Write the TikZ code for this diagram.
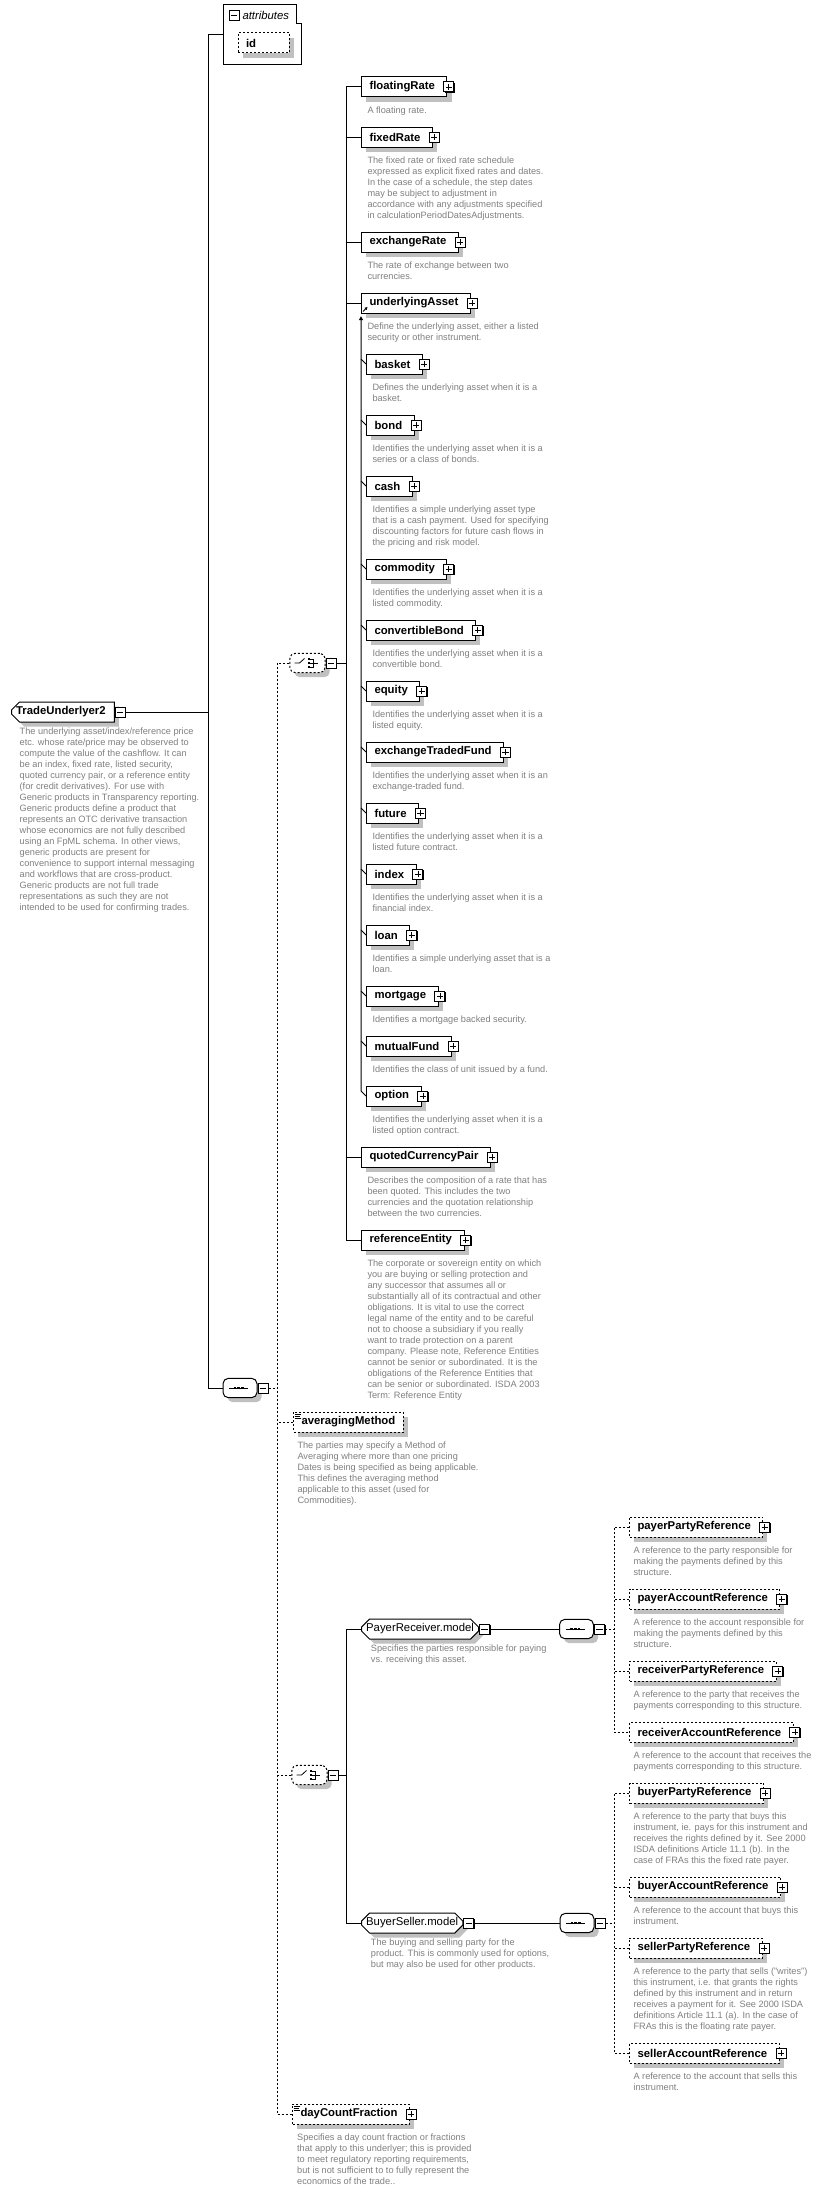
\documentclass[tikz,border=0pt]{standalone}
\usepackage{fontspec}
\setmainfont{Liberation Sans}
\usepackage{tikz}
\usetikzlibrary{positioning}
\usetikzlibrary{shapes.misc}
\usetikzlibrary{shadows}
\usetikzlibrary{arrows.meta}

\definecolor{descgray}{RGB}{128,128,128}
\definecolor{shadowgray}{RGB}{192,192,192}

\newcommand{\namefont}{\bfseries\fontsize{8.5}{10}\selectfont}
\newcommand{\grpfont}{\fontsize{8.5}{10}\selectfont}
\newcommand{\descfont}{\fontsize{6.9}{8.25}\selectfont}

\begin{document}
\begin{tikzpicture}[
        x=0.75pt, y=-0.75pt,
        line width=0.75pt,
        % grey shadow under the boxes
        boxshadow/.style={drop shadow={shadow xshift=3.4pt, shadow yshift=-3.4pt, fill=shadowgray, opacity=1}},
        % element boxes
        elembox/.style={rectangle, draw, fill=white, anchor=west, minimum height=15pt, inner xsep=6pt, inner ysep=0pt, font=\namefont, boxshadow},
        optbox/.style={elembox, dash pattern=on 1.5pt off 1.5pt},
        kids/.style={execute at end node={\hspace*{3pt}}},
        % global type box and model groups
        topbox/.style={chamfered rectangle, chamfered rectangle corners={north west, south west}, chamfered rectangle xsep=2.5pt, draw, fill=white, anchor=west, minimum height=15pt, inner xsep=1pt, inner ysep=0pt, font=\namefont, boxshadow},
        grpbox/.style={chamfered rectangle, chamfered rectangle xsep=2.5pt, draw, fill=white, anchor=west, minimum height=15pt, inner xsep=1pt, inner ysep=0pt, font=\grpfont, boxshadow},
        % compositors
        seqbox/.style={rectangle, rounded corners=4pt, draw, fill=white, minimum width=25.5pt, minimum height=14.5pt, inner sep=0pt, boxshadow},
        choicebox/.style={seqbox, minimum width=26.5pt, dash pattern=on 1.5pt off 1.5pt},
        % toggles
        plusbox/.style={rectangle, draw, fill=white, minimum size=7.5pt, inner sep=0pt,
            drop shadow={shadow xshift=0.75pt, shadow yshift=-0.75pt, fill=black, opacity=1},
            path picture={\draw[line width=0.6pt] ([xshift=1.4pt]path picture bounding box.west) -- ([xshift=-1.4pt]path picture bounding box.east);
                          \draw[line width=0.6pt] ([yshift=-1.4pt]path picture bounding box.north) -- ([yshift=1.4pt]path picture bounding box.south);}},
        minusbox/.style={rectangle, draw, fill=white, minimum size=7.5pt, inner sep=0pt,
            drop shadow={shadow xshift=0.75pt, shadow yshift=-0.75pt, fill=black, opacity=1},
            path picture={\draw[line width=0.6pt] ([xshift=1.4pt]path picture bounding box.west) -- ([xshift=-1.4pt]path picture bounding box.east);}},
        % documentation text
        desc/.style={anchor=north west, align=left, inner sep=0pt, font=\descfont, text=descgray},
        dline/.style={dash pattern=on 1.5pt off 1.5pt},
        % compositor symbols
        seqsym/.pic={
            \draw[line width=0.6pt] (-11,0) -- (8,0);
            \fill (-6.3,-1.3) rectangle ++(2.6,2.6);
            \fill (-2.6,-1.3) rectangle ++(2.6,2.6);
            \fill (1.1,-1.3) rectangle ++(2.6,2.6);
        },
        choicesym/.pic={
            \draw[line width=0.6pt] (-13,0) -- (-8,0) -- (-3,-4.5);
            \fill (0,-5.2) rectangle ++(2.4,2.4);
            \fill (0,-1.2) rectangle ++(2.4,2.4);
            \fill (0,2.8) rectangle ++(2.4,2.4);
            \draw[line width=0.6pt] (2.4,-4) -- (5.5,-4) -- (5.5,4) -- (2.4,4);
            \draw[line width=0.6pt] (2.4,0) -- (10.5,0);
        },
        % simple content icon
        lines/.pic={
            \draw[line width=0.5pt] (0,0) -- (6,0);
            \draw[line width=0.5pt] (0,1.7) -- (5,1.7);
            \draw[line width=0.5pt] (0,3.4) -- (6,3.4);
        }
    ]

    \fill[white] (0,0) rectangle (825,2191);
    \useasboundingbox (0,0) rectangle (825,2191);

    % --- global type with its attributes ---
    \node[rectangle, minimum width=58.5pt, minimum height=44.25pt, inner sep=0pt, anchor=north west] (attributes) at (223,5) {};
    \draw (attributes.north west) -- ++(73,0) -- ++(0,19) -- ++(5,0) |- (attributes.south west) -- cycle;
    \node[minusbox] (attributesMinus) at (234,15.5) {};
    \node[anchor=west, inner sep=0pt, font=\itshape\fontsize{8.5}{10}\selectfont] (attributesLabel) at (242,15.5) {attributes};
    \node[optbox] (id) at (237.5,43) {id\hspace*{19pt}};

    \node[topbox, kids] (tradeUnderlyer) at (11,712) {TradeUnderlyer2};
    \node[minusbox, anchor=west] (tradeUnderlyerMinus) at (tradeUnderlyer.east) {};
    \node[desc, below right=6.75pt and 3pt of tradeUnderlyer.south west] (tradeUnderlyerDoc) {The underlying asset/index/reference price\\etc. whose rate/price may be observed to\\compute the value of the cashflow. It can\\be an index, fixed rate, listed security,\\quoted currency pair, or a reference entity\\(for credit derivatives). For use with\\Generic products in Transparency reporting.\\Generic products define a product that\\represents an OTC derivative transaction\\whose economics are not fully described\\using an FpML schema. In other views,\\generic products are present for\\convenience to support internal messaging\\and workflows that are cross-product.\\Generic products are not full trade\\representations as such they are not\\intended to be used for confirming trades.};

    % --- main sequence ---
    \node[seqbox] (seqMain) at (240,1388) {};
    \pic at (seqMain.center) {seqsym};
    \node[minusbox, anchor=west] (seqMainMinus) at (seqMain.east) {};

    % --- choice of underlyer kinds ---
    \node[choicebox] (choiceTop) at (307.5,663) {};
    \pic at (choiceTop.center) {choicesym};
    \node[minusbox, anchor=west] (choiceTopMinus) at (choiceTop.east) {};

    \node[elembox, kids] (floatingRate) at (361,87) {floatingRate};
    \node[plusbox] (floatingRatePlus) at ([xshift=1pt]floatingRate.east) {};
    \node[desc, below right=6.75pt and 4.5pt of floatingRate.south west] (floatingRateDoc) {A floating rate.};

    \node[elembox, kids] (fixedRate) at (361,137) {fixedRate};
    \node[plusbox] (fixedRatePlus) at ([xshift=1pt]fixedRate.east) {};
    \node[desc, below right=6.75pt and 4.5pt of fixedRate.south west] (fixedRateDoc) {The fixed rate or fixed rate schedule\\expressed as explicit fixed rates and dates.\\In the case of a schedule, the step dates\\may be subject to adjustment in\\accordance with any adjustments specified\\in calculationPeriodDatesAdjustments.};

    \node[elembox, kids] (exchangeRate) at (361,242) {exchangeRate};
    \node[plusbox] (exchangeRatePlus) at ([xshift=1pt]exchangeRate.east) {};
    \node[desc, below right=6.75pt and 4.5pt of exchangeRate.south west] (exchangeRateDoc) {The rate of exchange between two\\currencies.};

    \node[elembox, kids] (underlyingAsset) at (361,303) {underlyingAsset};
    \node[plusbox] (underlyingAssetPlus) at ([xshift=1pt]underlyingAsset.east) {};
    \draw[-{Triangle[length=2pt,width=2pt]}, line width=0.6pt] ([shift={(2,-2)}]underlyingAsset.south west) -- ++(4.5,-4.5);
    \node[desc, below right=6.75pt and 4.5pt of underlyingAsset.south west] (underlyingAssetDoc) {Define the underlying asset, either a listed\\security or other instrument.};

    % substitution group members
    \node[elembox, kids] (basket) at (366,364) {basket};
    \node[plusbox] (basketPlus) at ([xshift=1pt]basket.east) {};
    \node[desc, below right=6.75pt and 4.5pt of basket.south west] (basketDoc) {Defines the underlying asset when it is a\\basket.};

    \node[elembox, kids] (bond) at (366,425) {bond};
    \node[plusbox] (bondPlus) at ([xshift=1pt]bond.east) {};
    \node[desc, below right=6.75pt and 4.5pt of bond.south west] (bondDoc) {Identifies the underlying asset when it is a\\series or a class of bonds.};

    \node[elembox, kids] (cash) at (366,486) {cash};
    \node[plusbox] (cashPlus) at ([xshift=1pt]cash.east) {};
    \node[desc, below right=6.75pt and 4.5pt of cash.south west] (cashDoc) {Identifies a simple underlying asset type\\that is a cash payment. Used for specifying\\discounting factors for future cash flows in\\the pricing and risk model.};

    \node[elembox, kids] (commodity) at (366,569) {commodity};
    \node[plusbox] (commodityPlus) at ([xshift=1pt]commodity.east) {};
    \node[desc, below right=6.75pt and 4.5pt of commodity.south west] (commodityDoc) {Identifies the underlying asset when it is a\\listed commodity.};

    \node[elembox, kids] (convertibleBond) at (366,630) {convertibleBond};
    \node[plusbox] (convertibleBondPlus) at ([xshift=1pt]convertibleBond.east) {};
    \node[desc, below right=6.75pt and 4.5pt of convertibleBond.south west] (convertibleBondDoc) {Identifies the underlying asset when it is a\\convertible bond.};

    \node[elembox, kids] (equity) at (366,691) {equity};
    \node[plusbox] (equityPlus) at ([xshift=1pt]equity.east) {};
    \node[desc, below right=6.75pt and 4.5pt of equity.south west] (equityDoc) {Identifies the underlying asset when it is a\\listed equity.};

    \node[elembox, kids] (exchangeTradedFund) at (366,752) {exchangeTradedFund};
    \node[plusbox] (exchangeTradedFundPlus) at ([xshift=1pt]exchangeTradedFund.east) {};
    \node[desc, below right=6.75pt and 4.5pt of exchangeTradedFund.south west] (exchangeTradedFundDoc) {Identifies the underlying asset when it is an\\exchange-traded fund.};

    \node[elembox, kids] (future) at (366,813) {future};
    \node[plusbox] (futurePlus) at ([xshift=1pt]future.east) {};
    \node[desc, below right=6.75pt and 4.5pt of future.south west] (futureDoc) {Identifies the underlying asset when it is a\\listed future contract.};

    \node[elembox, kids] (index) at (366,874) {index};
    \node[plusbox] (indexPlus) at ([xshift=1pt]index.east) {};
    \node[desc, below right=6.75pt and 4.5pt of index.south west] (indexDoc) {Identifies the underlying asset when it is a\\financial index.};

    \node[elembox, kids] (loan) at (366,935) {loan};
    \node[plusbox] (loanPlus) at ([xshift=1pt]loan.east) {};
    \node[desc, below right=6.75pt and 4.5pt of loan.south west] (loanDoc) {Identifies a simple underlying asset that is a\\loan.};

    \node[elembox, kids] (mortgage) at (366,996) {mortgage};
    \node[plusbox] (mortgagePlus) at ([xshift=1pt]mortgage.east) {};
    \node[desc, below right=6.75pt and 4.5pt of mortgage.south west] (mortgageDoc) {Identifies a mortgage backed security.};

    \node[elembox, kids] (mutualFund) at (366,1046) {mutualFund};
    \node[plusbox] (mutualFundPlus) at ([xshift=1pt]mutualFund.east) {};
    \node[desc, below right=6.75pt and 4.5pt of mutualFund.south west] (mutualFundDoc) {Identifies the class of unit issued by a fund.};

    \node[elembox, kids] (option) at (366,1096) {option};
    \node[plusbox] (optionPlus) at ([xshift=1pt]option.east) {};
    \node[desc, below right=6.75pt and 4.5pt of option.south west] (optionDoc) {Identifies the underlying asset when it is a\\listed option contract.};

    \node[elembox, kids] (quotedCurrencyPair) at (361,1157) {quotedCurrencyPair};
    \node[plusbox] (quotedCurrencyPairPlus) at ([xshift=1pt]quotedCurrencyPair.east) {};
    \node[desc, below right=6.75pt and 4.5pt of quotedCurrencyPair.south west] (quotedCurrencyPairDoc) {Describes the composition of a rate that has\\been quoted. This includes the two\\currencies and the quotation relationship\\between the two currencies.};

    \node[elembox, kids] (referenceEntity) at (361,1240) {referenceEntity};
    \node[plusbox] (referenceEntityPlus) at ([xshift=1pt]referenceEntity.east) {};
    \node[desc, below right=6.75pt and 4.5pt of referenceEntity.south west] (referenceEntityDoc) {The corporate or sovereign entity on which\\you are buying or selling protection and\\any successor that assumes all or\\substantially all of its contractual and other\\obligations. It is vital to use the correct\\legal name of the entity and to be careful\\not to choose a subsidiary if you really\\want to trade protection on a parent\\company. Please note, Reference Entities\\cannot be senior or subordinated. It is the\\obligations of the Reference Entities that\\can be senior or subordinated. ISDA 2003\\Term: Reference Entity};

    % --- averagingMethod ---
    \node[optbox] (averagingMethod) at (293,1422) {averagingMethod};
    \pic at ([shift={(1.5,3)}]averagingMethod.north west) {lines};
    \node[desc, below right=6.75pt and 3pt of averagingMethod.south west] (averagingMethodDoc) {The parties may specify a Method of\\Averaging where more than one pricing\\Dates is being specified as being applicable.\\This defines the averaging method\\applicable to this asset (used for\\Commodities).};

    % --- choice of party models ---
    \node[choicebox] (choiceGrp) at (309.5,1775) {};
    \pic at (choiceGrp.center) {choicesym};
    \node[minusbox, anchor=west] (choiceGrpMinus) at (choiceGrp.east) {};

    \node[grpbox] (payerReceiver) at (361,1629) {PayerReceiver.model};
    \node[minusbox, anchor=west] (payerReceiverMinus) at (payerReceiver.east) {};
    \node[desc, below right=6.75pt and 4pt of payerReceiver.south west] (payerReceiverDoc) {Specifies the parties responsible for paying\\vs. receiving this asset.};
    \node[seqbox] (seqPR) at (576.5,1629) {};
    \pic at (seqPR.center) {seqsym};
    \node[minusbox, anchor=west] (seqPRMinus) at (seqPR.east) {};

    \node[optbox, kids] (payerPartyReference) at (629,1527) {payerPartyReference};
    \node[plusbox] (payerPartyReferencePlus) at ([xshift=1pt]payerPartyReference.east) {};
    \node[desc, below right=6.75pt and 3pt of payerPartyReference.south west] (payerPartyReferenceDoc) {A reference to the party responsible for\\making the payments defined by this\\structure.};

    \node[optbox, kids] (payerAccountReference) at (629,1599) {payerAccountReference};
    \node[plusbox] (payerAccountReferencePlus) at ([xshift=1pt]payerAccountReference.east) {};
    \node[desc, below right=6.75pt and 3pt of payerAccountReference.south west] (payerAccountReferenceDoc) {A reference to the account responsible for\\making the payments defined by this\\structure.};

    \node[optbox, kids] (receiverPartyReference) at (629,1671) {receiverPartyReference};
    \node[plusbox] (receiverPartyReferencePlus) at ([xshift=1pt]receiverPartyReference.east) {};
    \node[desc, below right=6.75pt and 3pt of receiverPartyReference.south west] (receiverPartyReferenceDoc) {A reference to the party that receives the\\payments corresponding to this structure.};

    \node[optbox, kids] (receiverAccountReference) at (629,1732) {receiverAccountReference};
    \node[plusbox] (receiverAccountReferencePlus) at ([xshift=1pt]receiverAccountReference.east) {};
    \node[desc, below right=6.75pt and 3pt of receiverAccountReference.south west] (receiverAccountReferenceDoc) {A reference to the account that receives the\\payments corresponding to this structure.};

    \node[grpbox] (buyerSeller) at (361,1923) {BuyerSeller.model};
    \node[minusbox, anchor=west] (buyerSellerMinus) at (buyerSeller.east) {};
    \node[desc, below right=6.75pt and 4pt of buyerSeller.south west] (buyerSellerDoc) {The buying and selling party for the\\product. This is commonly used for options,\\but may also be used for other products.};
    \node[seqbox] (seqBS) at (577,1923) {};
    \pic at (seqBS.center) {seqsym};
    \node[minusbox, anchor=west] (seqBSMinus) at (seqBS.east) {};

    \node[optbox, kids] (buyerPartyReference) at (629,1793) {buyerPartyReference};
    \node[plusbox] (buyerPartyReferencePlus) at ([xshift=1pt]buyerPartyReference.east) {};
    \node[desc, below right=6.75pt and 3pt of buyerPartyReference.south west] (buyerPartyReferenceDoc) {A reference to the party that buys this\\instrument, ie. pays for this instrument and\\receives the rights defined by it. See 2000\\ISDA definitions Article 11.1 (b). In the\\case of FRAs this the fixed rate payer.};

    \node[optbox, kids] (buyerAccountReference) at (629,1887) {buyerAccountReference};
    \node[plusbox] (buyerAccountReferencePlus) at ([xshift=1pt]buyerAccountReference.east) {};
    \node[desc, below right=6.75pt and 3pt of buyerAccountReference.south west] (buyerAccountReferenceDoc) {A reference to the account that buys this\\instrument.};

    \node[optbox, kids] (sellerPartyReference) at (629,1948) {sellerPartyReference};
    \node[plusbox] (sellerPartyReferencePlus) at ([xshift=1pt]sellerPartyReference.east) {};
    \node[desc, below right=6.75pt and 3pt of sellerPartyReference.south west] (sellerPartyReferenceDoc) {A reference to the party that sells ("writes")\\this instrument, i.e. that grants the rights\\defined by this instrument and in return\\receives a payment for it. See 2000 ISDA\\definitions Article 11.1 (a). In the case of\\FRAs this is the floating rate payer.};

    \node[optbox, kids] (sellerAccountReference) at (629,2053) {sellerAccountReference};
    \node[plusbox] (sellerAccountReferencePlus) at ([xshift=1pt]sellerAccountReference.east) {};
    \node[desc, below right=6.75pt and 3pt of sellerAccountReference.south west] (sellerAccountReferenceDoc) {A reference to the account that sells this\\instrument.};

    % --- dayCountFraction ---
    \node[optbox, kids] (dayCountFraction) at (292,2114) {dayCountFraction};
    \node[plusbox] (dayCountFractionPlus) at ([xshift=1pt]dayCountFraction.east) {};
    \pic at ([shift={(1.5,3)}]dayCountFraction.north west) {lines};
    \node[desc, below right=6.75pt and 3.5pt of dayCountFraction.south west] (dayCountFractionDoc) {Specifies a day count fraction or fractions\\that apply to this underlyer; this is provided\\to meet regulatory reporting requirements,\\but is not sufficient to to fully represent the\\economics of the trade..};

    % --- connectors ---
    \coordinate (spine) at (208,0);
    \coordinate (seqSpine) at (277,0);
    \coordinate (choiceSpine) at (346,0);
    \coordinate (prSpine) at (614,0);

    \draw (attributes.west) -- (spine |- attributes.west) -- (spine |- seqMain.west) -- (seqMain.west);
    \draw (tradeUnderlyerMinus.east) -- (spine |- tradeUnderlyerMinus.east);

    \draw[dline] (seqMainMinus.east) -- (seqSpine |- seqMainMinus.east);
    \draw[dline] (choiceTop.west) -- (seqSpine |- choiceTop.west) -- (seqSpine |- dayCountFraction.west) -- (dayCountFraction.west);
    \draw[dline] (averagingMethod.west) -- (seqSpine |- averagingMethod.west);
    \draw[dline] (choiceGrp.west) -- (seqSpine |- choiceGrp.west);

    \draw (choiceTopMinus.east) -- (choiceSpine |- choiceTopMinus.east);
    \draw (floatingRate.west) -- (choiceSpine |- floatingRate.west) -- (choiceSpine |- referenceEntity.west) -- (referenceEntity.west);
    \foreach \n in {fixedRate, exchangeRate, underlyingAsset, quotedCurrencyPair}
        \draw (\n.west) -- (choiceSpine |- \n.west);

    \draw[{Triangle[length=3pt,width=3pt]}-] ([yshift=-2pt]underlyingAsset.south west) -- ([shift={(-5,-5)}]option.west) -- (option.west);
    \foreach \n in {basket, bond, cash, commodity, convertibleBond, equity, exchangeTradedFund, future, index, loan, mortgage, mutualFund}
        \draw (\n.west) -- ++(-5,-5);

    \draw (choiceGrpMinus.east) -- (choiceSpine |- choiceGrpMinus.east);
    \draw (payerReceiver.west) -- (choiceSpine |- payerReceiver.west) -- (choiceSpine |- buyerSeller.west) -- (buyerSeller.west);

    \draw (payerReceiverMinus.east) -- (seqPR.west);
    \draw[dline] (seqPRMinus.east) -- (prSpine |- seqPRMinus.east);
    \draw[dline] (payerPartyReference.west) -- (prSpine |- payerPartyReference.west) -- (prSpine |- receiverAccountReference.west) -- (receiverAccountReference.west);
    \draw[dline] (payerAccountReference.west) -- (prSpine |- payerAccountReference.west);
    \draw[dline] (receiverPartyReference.west) -- (prSpine |- receiverPartyReference.west);

    \draw (buyerSellerMinus.east) -- (seqBS.west);
    \draw[dline] (seqBSMinus.east) -- (prSpine |- seqBSMinus.east);
    \draw[dline] (buyerPartyReference.west) -- (prSpine |- buyerPartyReference.west) -- (prSpine |- sellerAccountReference.west) -- (sellerAccountReference.west);
    \draw[dline] (buyerAccountReference.west) -- (prSpine |- buyerAccountReference.west);
    \draw[dline] (sellerPartyReference.west) -- (prSpine |- sellerPartyReference.west);

\end{tikzpicture}
\end{document}
